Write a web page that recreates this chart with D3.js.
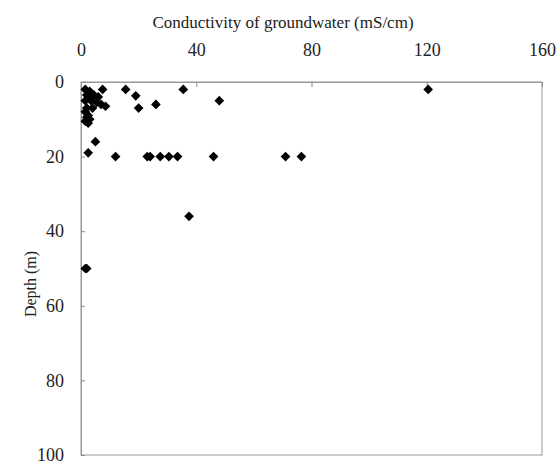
<!DOCTYPE html>
<html>
<head>
<meta charset="utf-8">
<script src="https://cdn.jsdelivr.net/npm/d3@7"></script>
<style>
  body { margin: 0; background: #fff; }
</style>
</head>
<body>
<svg id="chart" width="557" height="464"></svg>
<script>
// conductivity (mS/cm) and depth (m) of each sample
var conductivity = [
  1.5, 3, 7.5, 2, 4.5, 6, 1.5, 3.5, 5.5, 7, 8.5, 2, 4, 1.5, 2, 3, 2.5, 1.5, 3.5, 2.5,
  15.5, 19, 20, 26, 35.5, 48, 120.5,
  5, 2.5, 12, 23, 24, 27.5, 30.5, 33.5, 46, 71, 76.5,
  37.5, 1.5, 2
];
var depth = [
  2, 2.5, 2, 3.5, 3.5, 4, 5, 5, 5.5, 6, 6.5, 7, 7, 8, 9.5, 10, 11, 10.5, 4.5, 9,
  2, 3.7, 7, 6, 2, 5, 2,
  16, 19, 20, 20, 20, 20, 20, 20, 20, 20, 20,
  36, 50, 50
];
var xTicks = [0, 40, 80, 120, 160];
var yTicks = [0, 20, 40, 60, 80, 100];

var serif = "'Liberation Serif', 'Times New Roman', 'DejaVu Serif', serif";

var margin = { top: 82, right: 15, bottom: 9, left: 81 };
var width = 557 - margin.left - margin.right;
var height = 464 - margin.top - margin.bottom;

var svg = d3.select("#chart")
  .append("g")
  .attr("transform", "translate(" + margin.left + "," + margin.top + ")");

var xScale = d3.scaleLinear().domain([0, 160]).range([0, width]);
var yScale = d3.scaleLinear().domain([0, 100]).range([0, height]);

// frame
svg.append("rect")
  .attr("width", width)
  .attr("height", height)
  .attr("fill", "none")
  .attr("stroke", "#999")
  .attr("stroke-width", 1);

var xAxis = d3.axisTop(xScale).tickValues(xTicks).tickSizeInner(-5).tickSizeOuter(0).tickPadding(26);
var yAxis = d3.axisLeft(yScale).tickValues(yTicks).tickSizeInner(-4).tickSizeOuter(0).tickPadding(17);

var gx = svg.append("g").attr("class", "x axis").call(xAxis);
var gy = svg.append("g").attr("class", "y axis").call(yAxis);

[gx, gy].forEach(function (g) {
  g.attr("font-family", serif).attr("font-size", 18);
  g.select(".domain").attr("stroke", "#999");
  g.selectAll(".tick line").attr("stroke", "#888");
  g.selectAll(".tick text").style("font-family", serif).style("font-size", "18px").style("fill", "#222");
});

svg.append("text")
  .attr("class", "x label")
  .attr("text-anchor", "middle")
  .attr("x", 283 - margin.left)
  .attr("y", 28 - margin.top)
  .style("font-family", serif)
  .style("font-size", "17px")
  .style("fill", "#222")
  .text("Conductivity of groundwater (mS/cm)");

svg.append("g")
  .attr("transform", "translate(" + (36 - margin.left) + "," + (284 - margin.top) + ")")
  .append("text")
  .attr("class", "y label")
  .attr("text-anchor", "middle")
  .attr("transform", "rotate(-90)")
  .style("font-family", serif)
  .style("font-size", "16px")
  .style("fill", "#222")
  .text("Depth (m)");

var points = conductivity.map(function (c, i) { return { x: c, y: depth[i] }; });

svg.selectAll(".pt")
  .data(points)
  .enter()
  .append("path")
  .attr("class", "pt")
  .attr("d", d3.symbol(d3.symbolDiamond2).size(60))
  .attr("transform", function (d) { return "translate(" + xScale(d.x) + "," + yScale(d.y) + ")"; })
  .attr("fill", "#000");
</script>
</body>
</html>
